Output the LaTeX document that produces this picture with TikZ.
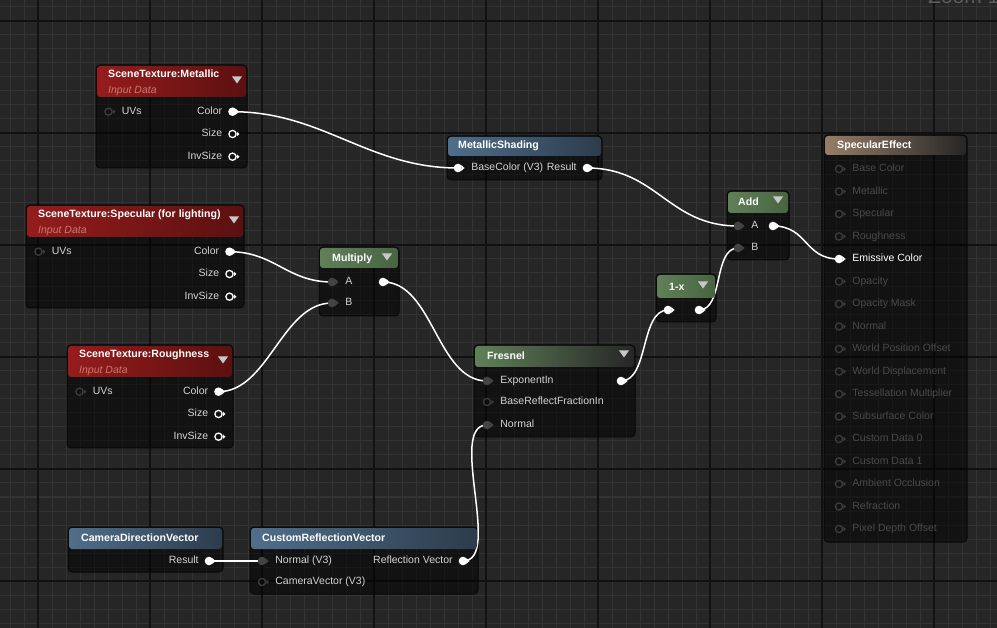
\documentclass[tikz,border=0pt]{standalone}
\usepackage{fontspec}
\setmainfont{Liberation Sans}
\usetikzlibrary{positioning}

\definecolor{canvas}{RGB}{38,38,38}
\definecolor{gridmin}{RGB}{51,51,51}
\definecolor{gridmaj}{RGB}{17,17,17}
\definecolor{edgec}{RGB}{8,8,8}
\definecolor{redl}{RGB}{150,28,28}
\definecolor{redr}{RGB}{92,16,16}
\definecolor{greenl}{RGB}{96,128,88}
\definecolor{greenr}{RGB}{72,100,66}
\definecolor{bluel}{RGB}{80,110,138}
\definecolor{bluer}{RGB}{44,60,76}
\definecolor{tanl}{RGB}{150,126,102}
\definecolor{darkr}{RGB}{38,38,38}
\definecolor{lblc}{RGB}{212,212,212}
\definecolor{dimc}{RGB}{74,74,74}
\definecolor{subc}{RGB}{200,122,112}
\definecolor{sockgc}{RGB}{68,68,68}
\definecolor{sockdc}{RGB}{60,60,60}
\definecolor{dropc}{RGB}{200,200,200}
\definecolor{zoomc}{RGB}{92,92,92}

\pgfdeclarelayer{back}
\pgfdeclarelayer{wires}
\pgfsetlayers{back,wires,main}

\newcommand\lblfont{\fontsize{10.5}{12}\selectfont}
\newcommand\ttlfont{\fontsize{10.6}{12}\selectfont\bfseries}

\begin{document}
\begin{tikzpicture}[x=1pt, y=-1pt,
  box/.style={fill=black, fill opacity=0.5, draw=edgec, line width=1pt, rounded corners=4pt},
  ttl/.style={font=\ttlfont, text=white, anchor=west, inner sep=0pt, text height=8pt, text depth=2pt},
  sub/.style={font=\lblfont\itshape, text=subc, anchor=west, inner sep=0pt, text height=8pt, text depth=2pt},
  lbl/.style={font=\lblfont, text=lblc, inner sep=0pt, text height=7.5pt, text depth=2pt},
  sock/.style={circle, inner sep=0pt, minimum size=16pt},
  sockfill/.style={sock, path picture={
      \fill[#1] (path picture bounding box.center) circle (4.3pt)
        ++(3.6pt,2.6pt) -- ++(3pt,-2.6pt) -- ++(-3pt,-2.6pt) -- cycle;}},
  sockring/.style={sock, path picture={
      \draw[#1, line width=1.3pt] (path picture bounding box.center) circle (3.6pt);
      \fill[#1] (path picture bounding box.center) ++(4.4pt,2.3pt) -- ++(2.6pt,-2.3pt) -- ++(-2.6pt,-2.3pt) -- cycle;}},
  sockw/.style={sockfill=white},
  sockg/.style={sockfill=sockgc},
  socko/.style={sockring=white},
  sockd/.style={sockring=sockdc},
  drop/.style={fill=dropc},
  wire/.style={draw=white, line width=1.5pt}]

\useasboundingbox (0,0) rectangle (997,628);
\clip (0,0) rectangle (997,628);

% canvas grid and node bodies
\begin{pgfonlayer}{back}
  \fill[canvas] (0,0) rectangle (997,628);
  \foreach \x in {10,24,...,996} \draw[gridmin, line width=1pt] (\x,0) -- (\x,628);
  \foreach \y in {7,21,...,627} \draw[gridmin, line width=1pt] (0,\y) -- (997,\y);
  \foreach \x in {38,150,...,996} \draw[gridmaj, line width=1.4pt] (\x,0) -- (\x,628);
  \foreach \y in {21,133,...,627} \draw[gridmaj, line width=1.4pt] (0,\y) -- (997,\y);
  \draw[box] (447,136) rectangle (602,180);
  \draw[box] (319,247) rectangle (399,316);
  \draw[box] (474,345) rectangle (635,437);
  \draw[box] (727,191) rectangle (789,260);
  \draw[box] (656,274) rectangle (716,322);
  \draw[box] (824,135) rectangle (967,542);
  \draw[box] (68,527) rectangle (223,572);
  \draw[box] (250,527) rectangle (478,594);
\end{pgfonlayer}

\node[font=\fontsize{21}{24}\selectfont, text=zoomc, anchor=base west, inner sep=0pt] (zoom) at (928,4) {Zoom 1:1};

% scene textures
\foreach \id/\x/\y/\w/\nm in {met/96/65/151/Metallic, spc/26/205/218/Specular (for lighting), rgh/67/345/166/Roughness} {
  \begin{pgfonlayer}{back}
    \draw[box] (\x,\y) rectangle ++(\w,103);
  \end{pgfonlayer}
  \shade[left color=redl, right color=redr, rounded corners=3pt] (\x+1,\y+1) rectangle (\x+\w-1,\y+32);
  \node[ttl] (\id-ttl) at (\x+12,\y+10) {SceneTexture:\nm};
  \node[sub] (\id-sub) at (\x+12,\y+25.7) {Input Data};
  \fill[drop] (\x+\w-10,\y+15) ++(-5,-3.5) -- ++(10,0) -- ++(-5,7) -- cycle;
  \node[sockd] (\id-uv) at (\x+12.5,\y+46.7) {};
  \node[sockw] (\id-col) at (\x+\w-14.5,\y+46.7) {};
  \node[socko] (\id-size) at (\x+\w-14.5,\y+69) {};
  \node[socko] (\id-inv) at (\x+\w-14.5,\y+91.7) {};
  \node[lbl, right=5pt of \id-uv] (\id-uvl) {UVs};
  \node[lbl, left=2pt of \id-col] (\id-coll) {Color};
  \node[lbl, left=2pt of \id-size] (\id-sizel) {Size};
  \node[lbl, left=2pt of \id-inv] (\id-invl) {InvSize};
}

% MetallicShading
\shade[left color=bluel, right color=bluer, rounded corners=3pt] (448,137) rectangle (601,156);
\node[ttl] (ms-ttl) at (458,146) {MetallicShading};
\node[sockw] (ms-bc) at (458,168) {};
\node[sockw] (ms-res) at (587,168) {};
\node[lbl, right=5pt of ms-bc] (ms-bcl) {BaseColor (V3)};
\node[lbl, left=2pt of ms-res] (ms-resl) {Result};

% Multiply
\shade[left color=greenl, right color=greenr, rounded corners=3pt] (320,248) rectangle (398,268);
\node[ttl] (mul-ttl) at (332,259) {Multiply};
\fill[drop] (387,257) ++(-5,-3.5) -- ++(10,0) -- ++(-5,7) -- cycle;
\node[sockg] (mul-a) at (332,282) {};
\node[sockg] (mul-b) at (332,303) {};
\node[sockw] (mul-out) at (383,282) {};
\node[lbl, right=5pt of mul-a] (mul-al) {A};
\node[lbl, right=5pt of mul-b] (mul-bl) {B};

% Fresnel
\shade[left color=greenl, right color=darkr, rounded corners=3pt] (475,346) rectangle (634,367);
\node[ttl] (fr-ttl) at (487,357) {Fresnel};
\fill[drop] (624,354) ++(-5,-3.5) -- ++(10,0) -- ++(-5,7) -- cycle;
\node[sockg] (fr-exp) at (487,381) {};
\node[sockd] (fr-brf) at (487,402) {};
\node[sockg] (fr-nrm) at (487,425) {};
\node[sockw] (fr-out) at (621,381) {};
\node[lbl, right=5pt of fr-exp] (fr-expl) {ExponentIn};
\node[lbl, right=5pt of fr-brf] (fr-brfl) {BaseReflectFractionIn};
\node[lbl, right=5pt of fr-nrm] (fr-nrml) {Normal};

% Add
\shade[left color=greenl, right color=greenr, rounded corners=3pt] (728,192) rectangle (788,213);
\node[ttl] (add-ttl) at (738,203) {Add};
\fill[drop] (778,200) ++(-5,-3.5) -- ++(10,0) -- ++(-5,7) -- cycle;
\node[sockg] (add-a) at (738,226) {};
\node[sockg] (add-b) at (738,248) {};
\node[sockw] (add-out) at (773,226) {};
\node[lbl, right=5pt of add-a] (add-al) {A};
\node[lbl, right=5pt of add-b] (add-bl) {B};

% 1-x
\shade[left color=greenl, right color=greenr, rounded corners=3pt] (657,275) rectangle (715,298);
\node[ttl] (omx-ttl) at (669,288) {1-x};
\fill[drop] (703,285) ++(-5,-3.5) -- ++(10,0) -- ++(-5,7) -- cycle;
\node[sockw] (omx-in) at (668,310) {};
\node[sockw] (omx-out) at (699,310) {};

% SpecularEffect
\shade[left color=tanl, right color=darkr, rounded corners=3pt] (825,136) rectangle (966,155);
\node[ttl] (se-ttl) at (837,146) {SpecularEffect};
\foreach \lab [count=\i] in {Base Color, Metallic, Specular, Roughness, Emissive Color, Opacity, Opacity Mask, Normal, World Position Offset, World Displacement, Tessellation Multiplier, Subsurface Color, Custom Data 0, Custom Data 1, Ambient Occlusion, Refraction, Pixel Depth Offset} {
  \ifnum\i=5 \tikzset{cursock/.style={sockw}, curtext/.style={text=white}}%
  \else \tikzset{cursock/.style={sockd}, curtext/.style={text=dimc}}\fi
  \node[cursock] (se\i) at (839,146.5+22.5*\i) {};
  \node[lbl, curtext, right=5pt of se\i] (se\i-l) {\lab};
}

% CameraDirectionVector
\shade[left color=bluel, right color=bluer, rounded corners=3pt] (69,528) rectangle (222,549);
\node[ttl] (cam-ttl) at (81,538) {CameraDirectionVector};
\node[sockw] (cam-res) at (209,561) {};
\node[lbl, left=2pt of cam-res] (cam-resl) {Result};

% CustomReflectionVector
\shade[left color=bluel, right color=bluer, rounded corners=3pt] (251,528) rectangle (477,549);
\node[ttl] (crv-ttl) at (262,538) {CustomReflectionVector};
\node[sockg] (crv-n) at (262,561) {};
\node[sockd] (crv-cv) at (262,582) {};
\node[sockw] (crv-out) at (463,561) {};
\node[lbl, right=5pt of crv-n] (crv-nl) {Normal (V3)};
\node[lbl, right=5pt of crv-cv] (crv-cvl) {CameraVector (V3)};
\node[lbl, left=2pt of crv-out] (crv-outl) {Reflection Vector};

% wires
\begin{pgfonlayer}{wires}
  \draw[wire] (met-col.center) .. controls +(90,0) and +(-90,0) .. (ms-bc.center);
  \draw[wire] (ms-res.center) .. controls +(70,0) and +(-70,0) .. (add-a.center);
  \draw[wire] (spc-col.center) .. controls +(45,0) and +(-45,0) .. (mul-a.center);
  \draw[wire] (rgh-col.center) .. controls +(50,0) and +(-50,0) .. (mul-b.center);
  \draw[wire] (mul-out.center) .. controls +(50,0) and +(-50,0) .. (fr-exp.center);
  \draw[wire] (fr-out.center) .. controls +(28,0) and +(-28,0) .. (omx-in.center);
  \draw[wire] (omx-out.center) .. controls +(25,0) and +(-25,0) .. (add-b.center);
  \draw[wire] (add-out.center) .. controls +(35,0) and +(-35,0) .. (se5.center);
  \draw[wire] (cam-res.center) -- (crv-n.center);
  \draw[wire] (crv-out.center) .. controls +(40,0) and +(-40,0) .. (fr-nrm.center);
\end{pgfonlayer}
\end{tikzpicture}
\end{document}
